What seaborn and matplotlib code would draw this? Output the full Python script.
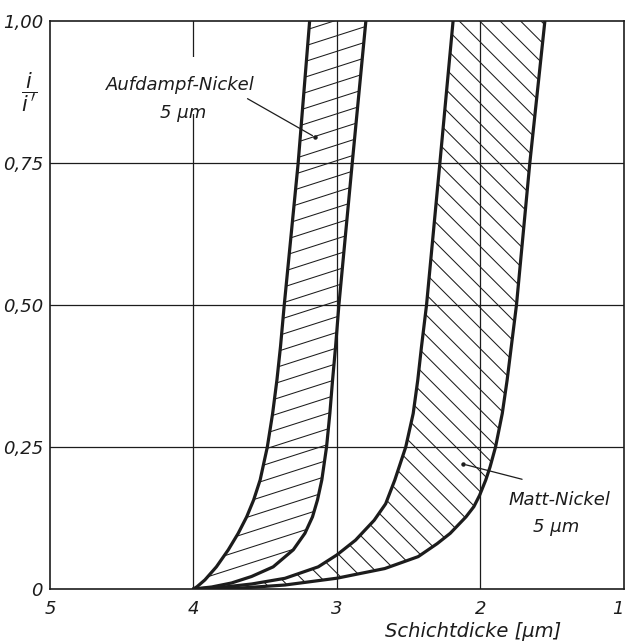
import numpy as np
import matplotlib
matplotlib.use('Agg')
import matplotlib.pyplot as plt
import seaborn as sns
from matplotlib.patches import Polygon
from matplotlib.collections import LineCollection

### Aufdampf-Nickel 5 um: outer (left) and inner (right) boundary of the band
AufdampfOuterY = [0, 0.004, 0.016, 0.039, 0.069, 0.098, 0.127, 0.157, 0.192, 0.25,
                  0.309, 0.368, 0.427, 0.50, 0.75, 1.00]
AufdampfOuterX = [4.00, 3.975, 3.92, 3.84, 3.757, 3.688, 3.629, 3.58, 3.535, 3.485,
                  3.448, 3.418, 3.393, 3.367, 3.27, 3.19]
AufdampfInnerY = [0, 0.0035, 0.0106, 0.022, 0.039, 0.069, 0.098, 0.127, 0.157, 0.192,
                  0.25, 0.309, 0.368, 0.427, 0.50, 0.75, 1.00]
AufdampfInnerX = [4.00, 3.873, 3.734, 3.595, 3.444, 3.304, 3.223, 3.17, 3.135, 3.105,
                  3.072, 3.049, 3.03, 3.009, 2.986, 2.893, 2.798]

### Matt-Nickel 5 um
MattOuterY = [0, 0.0023, 0.0088, 0.0188, 0.039, 0.060, 0.086, 0.121, 0.150, 0.192,
              0.25, 0.309, 0.368, 0.427, 0.50, 0.75, 1.00]
MattOuterX = [4.00, 3.827, 3.594, 3.362, 3.13, 3.00, 2.87, 2.74, 2.66, 2.596,
              2.52, 2.468, 2.436, 2.41, 2.375, 2.282, 2.19]
MattInnerY = [0, 0.001, 0.007, 0.019, 0.036, 0.057, 0.080, 0.098, 0.127, 0.145, 0.165,
              0.192, 0.215, 0.25, 0.309, 0.368, 0.427, 0.50, 0.75, 1.00]
MattInnerX = [4.00, 3.71, 3.362, 3.00, 2.666, 2.433, 2.30, 2.21, 2.10, 2.045, 2.005,
              1.962, 1.932, 1.894, 1.847, 1.813, 1.784, 1.748, 1.655, 1.55]

XTicks = [5, 4, 3, 2, 1]
XTickLabels = ['5', '4', '3', '2', '1']
YTicks = [0, 0.25, 0.50, 0.75, 1.00]
YTickLabels = ['0', '0,25', '0,50', '0,75', '1,00']

sns.set_theme(style='white')
plt.rcParams['font.family'] = ['DejaVu Sans']
plt.rcParams['mathtext.fontset'] = 'dejavusans'

Ink = '#1c1c1c'

fig = plt.figure(figsize=(6.25, 6.43), dpi=100)
ax = fig.add_axes([0.08, 0.084, 0.918, 0.883])
ax.set_xlim(5, 1)
ax.set_ylim(0, 1)

### grid
for gx in [4, 3, 2]:
    ax.axvline(gx, color=Ink, lw=0.9, zorder=1)
for gy in [0.25, 0.50, 0.75]:
    ax.axhline(gy, color=Ink, lw=0.9, zorder=1)


def hatch_band(outx, outy, inx, iny, slope, step, offset):
    ### polygon of the band, hatch lines clipped to it
    pts = list(zip(outx, outy)) + list(zip(inx[::-1], iny[::-1]))
    poly = Polygon(pts, closed=True, facecolor='none', edgecolor='none')
    ax.add_patch(poly)
    segs = []
    for b in np.arange(-2.0, 2.0, step) + offset:
        segs.append([(1, b + slope * 1), (5, b + slope * 5)])
    lc = LineCollection(segs, colors=Ink, linewidths=0.75, zorder=2)
    ax.add_collection(lc)
    lc.set_clip_path(poly)


hatch_band(AufdampfOuterX, AufdampfOuterY, AufdampfInnerX, AufdampfInnerY, -0.081, 0.0275, 0.0)
hatch_band(MattOuterX, MattOuterY, MattInnerX, MattInnerY, 0.2526, 0.036, 0.01)

### boundaries
for xs, ys in [(AufdampfOuterX, AufdampfOuterY), (AufdampfInnerX, AufdampfInnerY),
               (MattOuterX, MattOuterY), (MattInnerX, MattInnerY)]:
    sns.lineplot(x=xs, y=ys, sort=False, estimator=None, color=Ink, lw=2.3, ax=ax,
                 zorder=3, solid_joinstyle='round', solid_capstyle='round')

ax.set_xticks(XTicks)
ax.set_xticklabels(XTickLabels)
ax.set_yticks(YTicks)
ax.set_yticklabels(YTickLabels)
ax.tick_params(length=0, labelsize=13, colors=Ink, pad=5)
ax.tick_params(axis='x', pad=8)
for lab in ax.get_xticklabels() + ax.get_yticklabels():
    lab.set_fontstyle('italic')
ax.get_xticklabels()[-1].set_horizontalalignment('right')
ax.set_xlabel('')
ax.set_ylabel('')
for sp in ax.spines.values():
    sp.set_color(Ink)
    sp.set_linewidth(1.2)
    sp.set_visible(True)

### labels
ax.text(4.094, 0.887, 'Aufdampf-Nickel', ha='center', va='center', fontsize=13,
        style='italic', color=Ink, zorder=4,
        bbox=dict(facecolor='white', edgecolor='none', pad=14))
ax.text(4.07, 0.838, '5 µm', ha='center', va='center', fontsize=13,
        style='italic', color=Ink, zorder=5)
ax.annotate('', xy=(3.153, 0.796), xytext=(3.64, 0.866),
            arrowprops=dict(arrowstyle='-', color=Ink, lw=0.9), zorder=5)
ax.plot([3.153], [0.796], 'o', ms=2.2, color=Ink, zorder=5)

ax.text(1.446, 0.157, 'Matt-Nickel', ha='center', va='center', fontsize=13,
        style='italic', color=Ink, zorder=5)
ax.text(1.469, 0.110, '5 µm', ha='center', va='center', fontsize=13,
        style='italic', color=Ink, zorder=5)
ax.annotate('', xy=(2.12, 0.22), xytext=(1.69, 0.192),
            arrowprops=dict(arrowstyle='-', color=Ink, lw=0.9), zorder=5)
ax.plot([2.12], [0.22], 'o', ms=2.2, color=Ink, zorder=5)

ax.text(-0.036, 0.875, r"$\dfrac{i}{i\,'}$", transform=ax.transAxes, ha='center',
        va='center', fontsize=15, color=Ink)
ax.text(0.738, -0.0757, 'Schichtdicke [µm]', transform=ax.transAxes, ha='center',
        va='center', fontsize=14, style='italic', color=Ink)

plt.savefig('out.png', dpi=100)
